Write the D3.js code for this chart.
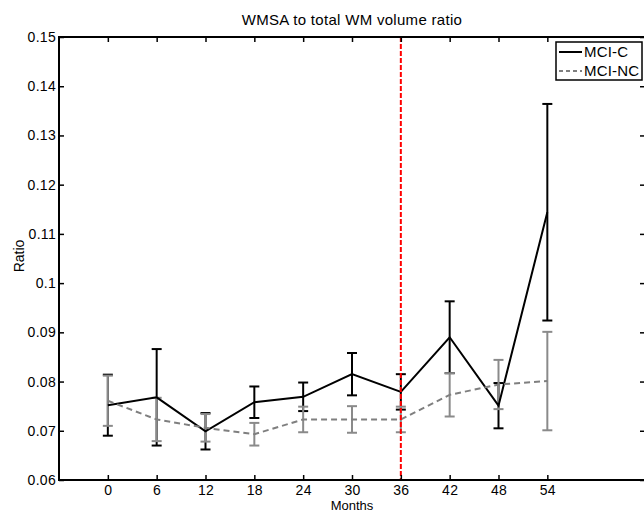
<!DOCTYPE html>
<html><head><meta charset="utf-8">
<script src="https://cdn.jsdelivr.net/npm/d3@7"></script>
<style>body{margin:0;background:#fff;} svg{display:block;} text{font-family:"Liberation Sans",Arial,sans-serif;}</style>
</head><body>
<svg id="c" width="644" height="512"></svg>
<script>
const months = [0, 6, 12, 18, 24, 30, 36, 42, 48, 54];
const mciC = [0.0752, 0.0768, 0.0699, 0.0758, 0.0769, 0.0815, 0.0779, 0.0890, 0.0751, 0.1144];
const mciCErr = [0.0062, 0.0098, 0.0037, 0.0032, 0.0029, 0.0043, 0.0036, 0.0073, 0.0046, 0.0220];
const mciNC = [0.0761, 0.0723, 0.0706, 0.0693, 0.0723, 0.0723, 0.0723, 0.0773, 0.0794, 0.0801];
const mciNCErr = [0.0051, 0.0044, 0.0028, 0.0023, 0.0026, 0.0027, 0.0026, 0.0044, 0.0050, 0.0100];
const yTicks = [0.06, 0.07, 0.08, 0.09, 0.1, 0.11, 0.12, 0.13, 0.14, 0.15];
const conversionMonth = 36;

const svg = d3.select("#c");
const L = 59, R = 645, T = 37, B = 480;
const x = d3.scaleLinear().domain([-6, 66]).range([L, R]);
const y = d3.scaleLinear().domain([0.06, 0.15]).range([B, T]);

const series = [
  {name: "MCI-C", vals: mciC, err: mciCErr, color: "#000", dash: null, errColor: "#000"},
  {name: "MCI-NC", vals: mciNC, err: mciNCErr, color: "#7f7f7f", dash: "6,4", errColor: "#8a8a8a"}
];

series.forEach(s => {
  const g = svg.append("g");
  months.forEach((m, i) => {
    const cx = x(m), lo = y(s.vals[i] - s.err[i]), hi = y(s.vals[i] + s.err[i]);
    g.append("line").attr("x1", cx).attr("x2", cx).attr("y1", lo).attr("y2", hi)
      .attr("stroke", s.errColor).attr("stroke-width", 2);
    [lo, hi].forEach(yy => g.append("line").attr("x1", cx - 5).attr("x2", cx + 5).attr("y1", yy).attr("y2", yy)
      .attr("stroke", s.errColor).attr("stroke-width", 2));
  });
});
series.forEach(s => {
  const line = d3.line().x((d, i) => x(months[i])).y(d => y(d));
  svg.append("path").datum(s.vals).attr("d", line).attr("fill", "none")
    .attr("stroke", s.color).attr("stroke-width", 2)
    .attr("stroke-dasharray", s.dash);
});

// red conversion line
svg.append("line").attr("x1", x(conversionMonth)).attr("x2", x(conversionMonth))
  .attr("y1", T).attr("y2", B).attr("stroke", "#f00").attr("stroke-width", 2)
  .attr("stroke-dasharray", "5,2");

// axes
const fmtY = d => String(+d.toFixed(2));
const axB = svg.append("g").attr("transform", `translate(0,${B})`)
  .call(d3.axisBottom(x).tickValues(months).tickSizeInner(-5).tickSizeOuter(0).tickPadding(5));
const axT = svg.append("g").attr("transform", `translate(0,${T})`)
  .call(d3.axisTop(x).tickValues(months).tickSizeInner(-5).tickSizeOuter(0).tickFormat(""));
const axL = svg.append("g").attr("transform", `translate(${L},0)`)
  .call(d3.axisLeft(y).tickValues(yTicks).tickSizeInner(-5).tickSizeOuter(0).tickPadding(3).tickFormat(fmtY));
const axR = svg.append("g").attr("transform", `translate(${R},0)`)
  .call(d3.axisRight(y).tickValues(yTicks).tickSizeInner(-5).tickSizeOuter(0).tickFormat(""));
[axB, axT, axL, axR].forEach(a => {
  a.selectAll(".domain").remove();
  a.selectAll(".tick line").attr("stroke", "#000").attr("stroke-width", 1.5);
  a.selectAll("text").attr("font-size", 14).attr("fill", "#000").attr("letter-spacing", 0.3)
   .attr("font-family", "'Liberation Sans', Arial, sans-serif");
});
svg.append("rect").attr("x", L).attr("y", T).attr("width", R - L).attr("height", B - T)
  .attr("fill", "none").attr("stroke", "#000").attr("stroke-width", 2);

// titles
svg.append("text").attr("x", (L + R) / 2).attr("y", 25).attr("text-anchor", "middle")
  .attr("font-size", 15).attr("letter-spacing", 0.3).text("WMSA to total WM volume ratio");
svg.append("text").attr("x", 352).attr("y", 510).attr("text-anchor", "middle")
  .attr("font-size", 13).text("Months");
svg.append("text").attr("transform", "translate(24,256) rotate(-90)").attr("text-anchor", "middle")
  .attr("font-size", 14).text("Ratio");

// legend
const lg = svg.append("g");
lg.append("rect").attr("x", 556).attr("y", 42).attr("width", 86).attr("height", 38)
  .attr("fill", "#fff").attr("stroke", "#000").attr("stroke-width", 1.5);
series.forEach((s, i) => {
  const yy = 52 + i * 19;
  lg.append("line").attr("x1", 559).attr("x2", 582).attr("y1", yy).attr("y2", yy)
    .attr("stroke", s.color).attr("stroke-width", 2).attr("stroke-dasharray", s.dash ? "4,3" : null);
  lg.append("text").attr("x", 584).attr("y", yy + 5).attr("font-size", 15).attr("letter-spacing", 0.2).text(s.name);
});
</script>
</body></html>
